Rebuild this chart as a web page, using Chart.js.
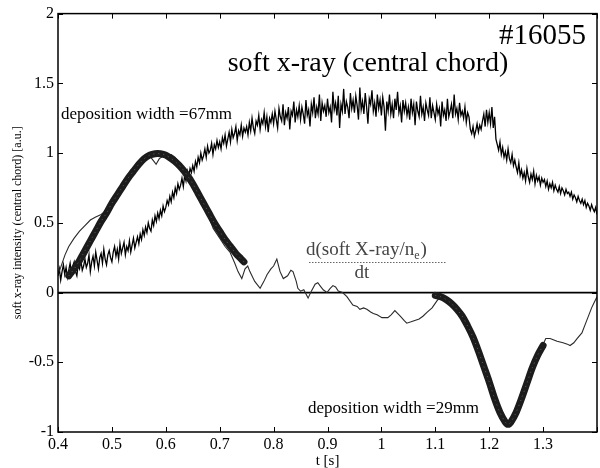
<!DOCTYPE html>
<html>
<head>
<meta charset="utf-8">
<script src="https://cdn.jsdelivr.net/npm/chart.js@4"></script>
<style>
  html, body { margin: 0; padding: 0; background: #fff; }
  #wrap { width: 600px; height: 468px; }
</style>
</head>
<body>
<div id="wrap"><canvas id="c" width="600" height="468"></canvas></div>
<script>
// Soft X-ray (central chord), shot #16055

// Raw soft X-ray signal, sampled every 2.5 ms from t = 0.4 s
const sxrStart = 0.4;
const sxrStep = 0.0025;
const sxrSignal = [
  0.12, 0.17, 0.09, 0.15, 0.20, 0.13, 0.18, 0.11, 0.16, 0.21, 0.14, 0.19, 0.22, 0.15, 0.12, 0.20, 0.17, 0.23, 0.16, 0.19,
  0.24, 0.18, 0.21, 0.27, 0.15, 0.22, 0.26, 0.19, 0.29, 0.23, 0.17, 0.25, 0.28, 0.21, 0.31, 0.24, 0.20, 0.27, 0.30, 0.25,
  0.22, 0.29, 0.33, 0.26, 0.31, 0.24, 0.35, 0.28, 0.32, 0.36, 0.27, 0.33, 0.30, 0.37, 0.29, 0.34, 0.39, 0.32, 0.36, 0.40,
  0.35, 0.42, 0.38, 0.45, 0.41, 0.47, 0.43, 0.50, 0.46, 0.44, 0.52, 0.48, 0.55, 0.51, 0.57, 0.53, 0.59, 0.55, 0.62, 0.58,
  0.61, 0.66, 0.63, 0.69, 0.65, 0.72, 0.68, 0.75, 0.71, 0.78, 0.74, 0.77, 0.82, 0.76, 0.84, 0.80, 0.87, 0.83, 0.89, 0.86,
  0.91, 0.87, 0.94, 0.90, 0.97, 0.93, 1.00, 0.95, 0.98, 1.03, 0.97, 1.05, 1.00, 1.02, 1.07, 0.99, 1.06, 1.03, 1.09, 1.04,
  1.08, 1.03, 1.11, 1.07, 1.13, 1.05, 1.10, 1.15, 1.08, 1.17, 1.11, 1.14, 1.19, 1.09, 1.16, 1.13, 1.20, 1.12, 1.18, 1.15,
  1.19, 1.13, 1.22, 1.16, 1.25, 1.18, 1.14, 1.23, 1.20, 1.27, 1.17, 1.24, 1.21, 1.29, 1.19, 1.26, 1.15, 1.25, 1.22, 1.28,
  1.21, 1.30, 1.24, 1.18, 1.32, 1.26, 1.23, 1.35, 1.20, 1.29, 1.25, 1.33, 1.17, 1.30, 1.27, 1.37, 1.22, 1.31, 1.26, 1.34,
  1.24, 1.33, 1.28, 1.21, 1.38, 1.27, 1.31, 1.19, 1.35, 1.29, 1.40, 1.25, 1.33, 1.28, 1.42, 1.23, 1.36, 1.30, 1.34, 1.26,
  1.39, 1.29, 1.33, 1.22, 1.44, 1.31, 1.36, 1.27, 1.41, 1.18, 1.35, 1.30, 1.46, 1.28, 1.37, 1.33, 1.25, 1.43, 1.32, 1.38,
  1.29, 1.41, 1.34, 1.24, 1.47, 1.31, 1.37, 1.28, 1.43, 1.33, 1.21, 1.39, 1.35, 1.45, 1.30, 1.36, 1.26, 1.42, 1.32, 1.38,
  1.27, 1.40, 1.33, 1.16, 1.37, 1.30, 1.42, 1.28, 1.35, 1.25, 1.39, 1.31, 1.44, 1.29, 1.34, 1.22, 1.38, 1.30, 1.36, 1.27,
  1.33, 1.24, 1.39, 1.29, 1.35, 1.20, 1.37, 1.30, 1.26, 1.41, 1.28, 1.33, 1.23, 1.36, 1.31, 1.27, 1.40, 1.25, 1.34, 1.29,
  1.24, 1.35, 1.28, 1.32, 1.19, 1.37, 1.27, 1.31, 1.23, 1.39, 1.26, 1.30, 1.35, 1.25, 1.42, 1.28, 1.32, 1.24, 1.36, 1.27,
  1.30, 1.25, 1.33, 1.22, 1.29, 1.26, 1.17, 1.14, 1.19, 1.12, 1.16, 1.21, 1.15, 1.20, 1.17, 1.23, 1.28, 1.19, 1.31, 1.22,
  1.29, 1.21, 1.33, 1.18, 1.26, 1.10, 1.06, 1.02, 1.08, 0.99, 1.04, 0.97, 1.01, 0.95, 1.03, 0.96, 0.93, 0.99, 0.91, 0.95,
  0.90, 0.86, 0.93, 0.84, 0.88, 0.82, 0.86, 0.80, 0.89, 0.83, 0.79, 0.85, 0.81, 0.87, 0.78, 0.84, 0.80, 0.83, 0.77, 0.82,
  0.79, 0.81, 0.76, 0.80, 0.74, 0.78, 0.75, 0.79, 0.73, 0.77, 0.74, 0.72, 0.76, 0.71, 0.75, 0.73, 0.70, 0.74, 0.71, 0.72,
  0.69, 0.72, 0.67, 0.70, 0.68, 0.65, 0.69, 0.66, 0.64, 0.67, 0.63, 0.66, 0.61, 0.64, 0.62, 0.59, 0.63, 0.60, 0.58, 0.61,
  0.56
];

// Normalised time derivative d(soft X-ray / n_e)/dt
const derivT = [
  0.400, 0.405, 0.413, 0.420, 0.430, 0.440, 0.450, 0.460, 0.469, 0.480,
  0.487, 0.493, 0.500, 0.510, 0.519, 0.530, 0.543, 0.552, 0.560, 0.570,
  0.578, 0.582, 0.588, 0.600, 0.610, 0.617, 0.626, 0.636, 0.645, 0.654,
  0.669, 0.680, 0.688, 0.700, 0.710, 0.719, 0.728, 0.734, 0.741, 0.747,
  0.752, 0.756, 0.765, 0.775, 0.782, 0.788, 0.795, 0.800, 0.806, 0.812,
  0.818, 0.826, 0.832, 0.836, 0.842, 0.845, 0.850, 0.856, 0.864, 0.870,
  0.877, 0.882, 0.886, 0.892, 0.899, 0.905, 0.910, 0.915, 0.920, 0.928,
  0.936, 0.947, 0.955, 0.960, 0.967, 0.973, 0.980, 0.985, 0.992, 1.001,
  1.012, 1.018, 1.025, 1.030, 1.035, 1.042, 1.047, 1.055, 1.062, 1.070,
  1.077, 1.085, 1.094, 1.103, 1.112, 1.120, 1.130, 1.140, 1.150, 1.160,
  1.170, 1.180, 1.190, 1.200, 1.210, 1.220, 1.230, 1.235, 1.240, 1.250,
  1.260, 1.270, 1.280, 1.290, 1.300, 1.305, 1.313, 1.320, 1.326, 1.337,
  1.345, 1.350, 1.357, 1.363, 1.372, 1.381, 1.390, 1.395, 1.400
];
const derivV = [
  0.13, 0.18, 0.27, 0.33, 0.39, 0.44, 0.48, 0.52, 0.54, 0.56,
  0.58, 0.61, 0.65, 0.71, 0.76, 0.83, 0.89, 0.94, 0.97, 0.98,
  0.94, 0.92, 0.96, 0.99, 0.99, 0.97, 0.93, 0.88, 0.81, 0.74,
  0.63, 0.54, 0.46, 0.39, 0.33, 0.29, 0.21, 0.15, 0.10, 0.17,
  0.19, 0.15, 0.08, 0.03, 0.08, 0.13, 0.17, 0.19, 0.24, 0.15,
  0.10, 0.12, 0.16, 0.15, 0.08, 0.03, 0.01, 0.02, -0.04, 0.01,
  0.06, 0.07, 0.05, 0.02, 0.00, 0.03, 0.05, 0.04, 0.01, 0.00,
  -0.03, -0.09, -0.10, -0.12, -0.11, -0.12, -0.14, -0.15, -0.16, -0.18,
  -0.18, -0.16, -0.13, -0.15, -0.17, -0.20, -0.22, -0.21, -0.20, -0.19,
  -0.17, -0.14, -0.11, -0.06, -0.02, -0.04, -0.07, -0.11, -0.16, -0.23,
  -0.31, -0.41, -0.52, -0.63, -0.75, -0.85, -0.92, -0.94, -0.92, -0.85,
  -0.75, -0.64, -0.53, -0.44, -0.37, -0.33, -0.33, -0.34, -0.35, -0.36,
  -0.37, -0.38, -0.36, -0.33, -0.29, -0.20, -0.11, -0.07, -0.03
];

// Fitted deposition profile, rise phase (width 67 mm)
const fit1T = [
  0.42, 0.43, 0.44, 0.45, 0.46, 0.47, 0.48, 0.49, 0.50, 0.51,
  0.52, 0.53, 0.54, 0.55, 0.56, 0.57, 0.58, 0.59, 0.60, 0.61,
  0.62, 0.63, 0.64, 0.65, 0.66, 0.67, 0.68, 0.69, 0.70, 0.71,
  0.72, 0.73, 0.74, 0.745
];
const fit1V = [
  0.12, 0.17, 0.23, 0.30, 0.37, 0.44, 0.51, 0.57, 0.64, 0.70,
  0.76, 0.82, 0.87, 0.92, 0.96, 0.985, 0.995, 0.995, 0.985, 0.96,
  0.93, 0.89, 0.84, 0.78, 0.71, 0.64, 0.57, 0.50, 0.44, 0.38,
  0.33, 0.28, 0.24, 0.22
];

// Fitted deposition profile, decay phase (width 29 mm)
const fit2T = [
  1.10, 1.11, 1.12, 1.13, 1.14, 1.15, 1.16, 1.17, 1.18, 1.19,
  1.20, 1.21, 1.22, 1.23, 1.235, 1.24, 1.25, 1.26, 1.27, 1.28,
  1.29, 1.30
];
const fit2V = [
  -0.02, -0.03, -0.05, -0.08, -0.12, -0.17, -0.24, -0.32, -0.42, -0.53,
  -0.64, -0.76, -0.86, -0.93, -0.945, -0.93, -0.86, -0.76, -0.65, -0.54,
  -0.45, -0.38
];

const xTickValues = [0.4, 0.5, 0.6, 0.7, 0.8, 0.9, 1.0, 1.1, 1.2, 1.3];
const yTickValues = [-1, -0.5, 0, 0.5, 1, 1.5, 2];

const serif = '"Liberation Serif", "DejaVu Serif", serif';

const zip = (xs, ys) => xs.map((x, i) => ({ x: x, y: ys[i] }));
const sxrPoints = sxrSignal.map((v, i) => ({ x: +(sxrStart + i * sxrStep).toFixed(4), y: v }));

// Box frame, inward ticks and text annotations
const framePlugin = {
  id: 'frame',
  afterDatasetsDraw(chart) {
    const { ctx, chartArea: a, scales: { x, y } } = chart;
    ctx.save();
    ctx.strokeStyle = '#000';
    ctx.lineWidth = 1.5;
    ctx.strokeRect(a.left, a.top, a.right - a.left, a.bottom - a.top);

    ctx.lineWidth = 1;
    ctx.beginPath();
    const xTicks = xTickValues.concat([1.4]);
    xTicks.forEach(v => {
      const px = Math.round(x.getPixelForValue(v)) + 0.5;
      ctx.moveTo(px, a.bottom); ctx.lineTo(px, a.bottom - 5);
      ctx.moveTo(px, a.top); ctx.lineTo(px, a.top + 5);
    });
    yTickValues.forEach(v => {
      const py = Math.round(y.getPixelForValue(v)) + 0.5;
      ctx.moveTo(a.left, py); ctx.lineTo(a.left + 5, py);
      ctx.moveTo(a.right, py); ctx.lineTo(a.right - 5, py);
    });
    ctx.stroke();

    ctx.fillStyle = '#000';
    ctx.textBaseline = 'alphabetic';

    // shot number and title
    ctx.textAlign = 'right';
    ctx.font = '29px ' + serif;
    ctx.fillText('#16055', 586, 44);
    ctx.textAlign = 'center';
    ctx.font = '28px ' + serif;
    ctx.fillText('soft x-ray (central chord)', 368, 71);

    // deposition widths
    ctx.textAlign = 'left';
    ctx.font = '17px ' + serif;
    ctx.fillText('deposition width =67mm', 61, 119);
    ctx.fillText('deposition width =29mm', 308, 413);

    // derivative label as a fraction
    ctx.fillStyle = '#444';
    ctx.font = '19px ' + serif;
    const num = 'd(soft X-ray/n';
    const nx = 306, ny = 255;
    ctx.fillText(num, nx, ny);
    const w = ctx.measureText(num).width;
    ctx.font = '12px ' + serif;
    ctx.fillText('e', nx + w, ny + 4);
    const we = ctx.measureText('e').width;
    ctx.font = '19px ' + serif;
    ctx.fillText(')', nx + w + we + 1, ny);
    ctx.strokeStyle = '#666';
    ctx.setLineDash([1.5, 1.5]);
    ctx.beginPath();
    ctx.moveTo(309, 262.5); ctx.lineTo(446, 262.5);
    ctx.stroke();
    ctx.setLineDash([]);
    ctx.textAlign = 'center';
    ctx.fillText('dt', 362, 278);

    // axis titles
    ctx.fillStyle = '#000';
    ctx.font = '15px ' + serif;
    ctx.fillText('t [s]', (a.left + a.right) / 2, 465);
    ctx.save();
    ctx.translate(21, (a.top + a.bottom) / 2);
    ctx.rotate(-Math.PI / 2);
    ctx.font = '12px ' + serif;
    ctx.fillText('soft x-ray intensity (central chord) [a.u.]', 0, 0);
    ctx.restore();

    ctx.restore();
  }
};

new Chart(document.getElementById('c'), {
  type: 'line',
  data: {
    datasets: [
      {
        label: 'zero',
        data: [{ x: 0.4, y: 0 }, { x: 1.4, y: 0 }],
        borderColor: '#000', borderWidth: 1.8, pointRadius: 0, order: 5
      },
      {
        label: 'soft X-ray',
        data: sxrPoints,
        borderColor: '#000', borderWidth: 1.3, pointRadius: 0, tension: 0, order: 4
      },
      {
        label: 'd(soft X-ray/ne)/dt',
        data: zip(derivT, derivV),
        borderColor: '#2a2a2a', borderWidth: 1.1, pointRadius: 0, tension: 0, order: 3
      },
      {
        label: 'fit 67mm',
        data: zip(fit1T, fit1V),
        borderColor: '#1c1c1c', borderWidth: 7, pointRadius: 0, tension: 0.3,
        borderCapStyle: 'round', order: 2
      },
      {
        label: 'fit 29mm',
        data: zip(fit2T, fit2V),
        borderColor: '#1c1c1c', borderWidth: 7, pointRadius: 0, tension: 0.3,
        borderCapStyle: 'round', order: 2
      },
      {
        label: 'fit 67mm core',
        data: zip(fit1T, fit1V),
        borderColor: 'rgba(150,150,150,0.55)', borderWidth: 1, borderDash: [1, 4],
        pointRadius: 0, tension: 0.3, order: 1
      },
      {
        label: 'fit 29mm core',
        data: zip(fit2T, fit2V),
        borderColor: 'rgba(150,150,150,0.55)', borderWidth: 1, borderDash: [1, 4],
        pointRadius: 0, tension: 0.3, order: 1
      }
    ]
  },
  options: {
    responsive: false,
    animation: false,
    events: [],
    layout: { padding: { top: 10, right: 3, left: 0, bottom: 0 } },
    plugins: { legend: { display: false }, tooltip: { enabled: false } },
    scales: {
      x: {
        type: 'linear', min: 0.4, max: 1.4,
        afterFit: s => { s.height = 36; },
        afterBuildTicks: s => { s.ticks = xTickValues.map(v => ({ value: v })); },
        grid: { display: false, drawTicks: false },
        border: { display: false },
        ticks: {
          padding: 3, color: '#000', maxRotation: 0, autoSkip: false,
          font: { family: serif, size: 16 },
          callback: v => String(Math.round(v * 10) / 10)
        }
      },
      y: {
        type: 'linear', min: -1, max: 2,
        afterFit: s => { s.width = 58; },
        afterBuildTicks: s => { s.ticks = yTickValues.map(v => ({ value: v })); },
        grid: { display: false, drawTicks: false },
        border: { display: false },
        ticks: {
          padding: 4, color: '#000',
          font: { family: serif, size: 16 },
          callback: v => String(v)
        }
      }
    }
  },
  plugins: [framePlugin]
});
</script>
</body>
</html>
